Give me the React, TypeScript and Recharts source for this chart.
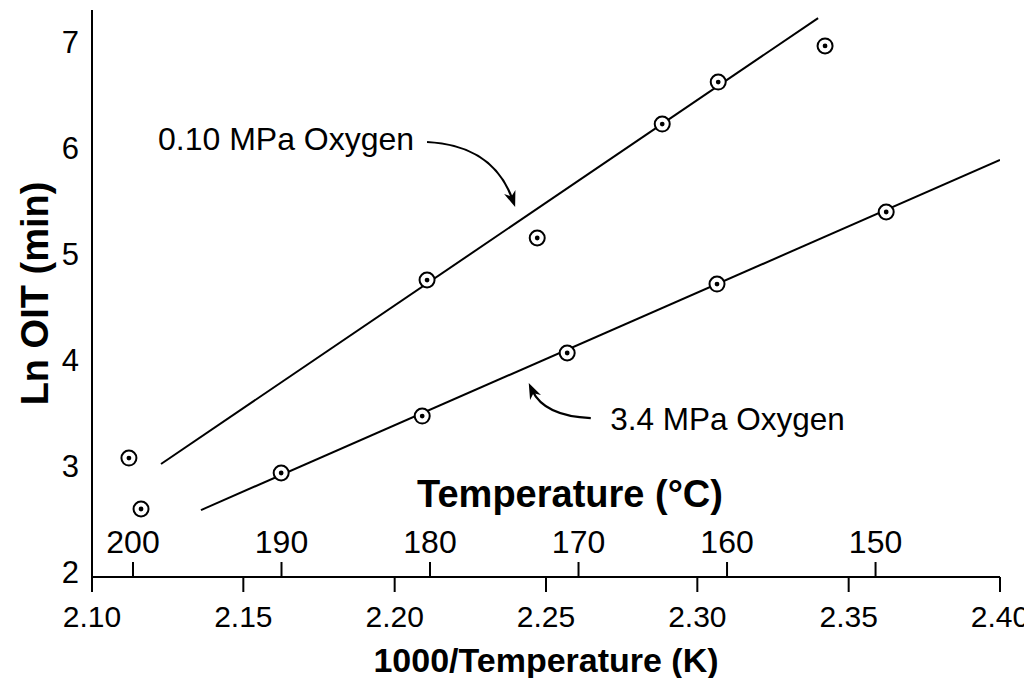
import { ComposedChart, Line, Scatter, XAxis, YAxis, ReferenceLine, ReferenceDot, Label } from "recharts";

// measured OIT points, 0.10 MPa and 3.4 MPa oxygen
const lowPressX = [2.1122, 2.2107, 2.2471, 2.2884, 2.3069, 2.3422];
const lowPressY = [3.074, 4.752, 5.148, 6.222, 6.618, 6.958];
const highPressX = [2.1162, 2.1625, 2.2091, 2.257, 2.3065, 2.3624];
const highPressY = [2.594, 2.933, 3.47, 4.064, 4.714, 5.393];

// fitted lines (end points)
const lowFitX = [2.1228, 2.3399];
const lowFitY = [3.018, 7.221];
const highFitX = [2.136, 2.4];
const highFitY = [2.584, 5.883];

const xTicks = [2.1, 2.15, 2.2, 2.25, 2.3, 2.35, 2.4];
const yTicks = [2, 3, 4, 5, 6, 7];
const tempTicks = [200, 190, 180, 170, 160, 150];

// annotations
const lowLabel = { text: "0.10 MPa Oxygen", x: 2.1218, y: 6.081 };
const highLabel = { text: "3.4 MPa Oxygen", x: 2.2712, y: 3.442 };
const lowArrow = { x1: 2.2107, y1: 6.053, x2: 2.2398, y2: 5.44 };
const highArrow = { x1: 2.2648, y1: 3.451, x2: 2.2443, y2: 3.781 };

const zip = (xs: number[], ys: number[]) => xs.map((x, i) => ({ x, y: ys[i] }));

const lowPts = zip(lowPressX, lowPressY);
const highPts = zip(highPressX, highPressY);
const lowFit = zip(lowFitX, lowFitY);
const highFit = zip(highFitX, highFitY);
// keeps the temperature axis alive (nothing is drawn)
const tempAnchors = tempTicks.map((t) => ({ t, y: 2 }));

const FONT = "'Liberation Sans', Arial, sans-serif";

function Marker(props: any) {
  const { cx, cy } = props;
  return (
    <g>
      <circle cx={cx} cy={cy} r={7.5} fill="#fff" stroke="#000" strokeWidth={2} />
      <circle cx={cx} cy={cy} r={2.4} fill="#000" />
    </g>
  );
}

function CurvedArrow(props: any) {
  const { x1, y1, x2, y2 } = props;
  const cx = x1 + 0.75 * (x2 - x1);
  const cy = y1 + 0.05 * (y2 - y1);
  const dx = x2 - cx;
  const dy = y2 - cy;
  const len = Math.sqrt(dx * dx + dy * dy) || 1;
  const ux = dx / len;
  const uy = dy / len;
  const hl = 16;
  const hw = 6;
  const bx = x2 - ux * hl;
  const by = y2 - uy * hl;
  const head = `M${x2},${y2} L${bx - uy * hw},${by + ux * hw} L${x2 - ux * hl * 0.7},${y2 - uy * hl * 0.7} L${bx + uy * hw},${by - ux * hw} Z`;
  return (
    <g>
      <path d={`M${x1},${y1} Q${cx},${cy} ${x2 - ux * 8},${y2 - uy * 8}`} fill="none" stroke="#000" strokeWidth={2.2} />
      <path d={head} fill="#000" stroke="none" />
    </g>
  );
}

export default function App() {
  return (
    <div style={{ fontFamily: FONT }}>
      <style>{"html{overflow:hidden}"}</style>
      <ComposedChart width={1024} height={670} margin={{ top: 2, right: 32, bottom: 6, left: 0 }}>
        <XAxis
          dataKey="x"
          type="number"
          domain={[2.1, 2.4]}
          ticks={xTicks}
          allowDataOverflow
          tickFormatter={(v: number) => v.toFixed(2)}
          tick={{ fontSize: 30, fill: "#000", fontFamily: FONT }}
          tickSize={15}
          tickMargin={14}
          height={95}
          axisLine={{ stroke: "#000", strokeWidth: 2 }}
          tickLine={{ stroke: "#000", strokeWidth: 2 }}
        >
          <Label value="1000/Temperature (K)" position="insideBottom" offset={0} style={{ fontSize: 34, fontWeight: "bold", fill: "#000", fontFamily: FONT }} />
        </XAxis>
        <XAxis
          xAxisId="temp"
          dataKey="t"
          type="number"
          orientation="bottom"
          mirror
          reversed
          domain={[141.62, 202.76]}
          ticks={tempTicks}
          allowDataOverflow
          interval={0}
          tick={{ fontSize: 32, fill: "#000", fontFamily: FONT }}
          tickSize={15}
          tickMargin={9}
          height={70}
          axisLine={false}
          tickLine={{ stroke: "#000", strokeWidth: 2 }}
        >
          <Label
            position="top"
            content={(p: any) => {
              const vb = p.viewBox;
              return (
                <text x={vb.x + vb.width / 2 + 24} y={vb.y} textAnchor="middle" fontSize={38} fontWeight="bold" fill="#000" fontFamily={FONT}>
                  Temperature (°C)
                </text>
              );
            }}
          />
        </XAxis>
        <YAxis
          type="number"
          domain={[1.953, 7.297]}
          ticks={yTicks}
          allowDataOverflow
          width={84}
          tick={{ fontSize: 31, fill: "#000", fontFamily: FONT }}
          tickLine={false}
          tickSize={0}
          tickMargin={13}
          axisLine={{ stroke: "#000", strokeWidth: 2 }}
        >
          <Label value="Ln OIT (min)" angle={-90} position="insideLeft" offset={27} style={{ textAnchor: "middle", fontSize: 38, fontWeight: "bold", fill: "#000", fontFamily: FONT }} />
        </YAxis>

        <Scatter xAxisId="temp" data={tempAnchors} dataKey="y" shape={() => <g />} isAnimationActive={false} />
        <Line data={lowFit} dataKey="y" stroke="#000" strokeWidth={2} dot={false} isAnimationActive={false} />
        <Line data={highFit} dataKey="y" stroke="#000" strokeWidth={2} dot={false} isAnimationActive={false} />
        <Scatter data={lowPts} dataKey="y" shape={<Marker />} isAnimationActive={false} />
        <Scatter data={highPts} dataKey="y" shape={<Marker />} isAnimationActive={false} />

        <ReferenceLine
          segment={[{ x: lowArrow.x1, y: lowArrow.y1 }, { x: lowArrow.x2, y: lowArrow.y2 }]}
          shape={(p: any) => <CurvedArrow {...p} />}
        />
        <ReferenceLine
          segment={[{ x: highArrow.x1, y: highArrow.y1 }, { x: highArrow.x2, y: highArrow.y2 }]}
          shape={(p: any) => <CurvedArrow {...p} />}
        />
        <ReferenceDot
          x={lowLabel.x}
          y={lowLabel.y}
          r={0}
          stroke="none"
          label={{ value: lowLabel.text, position: "right", offset: 0, fontSize: 32, fill: "#000", fontFamily: FONT }}
        />
        <ReferenceDot
          x={highLabel.x}
          y={highLabel.y}
          r={0}
          stroke="none"
          label={{ value: highLabel.text, position: "right", offset: 0, fontSize: 31.5, fill: "#000", fontFamily: FONT }}
        />
      </ComposedChart>
    </div>
  );
}
